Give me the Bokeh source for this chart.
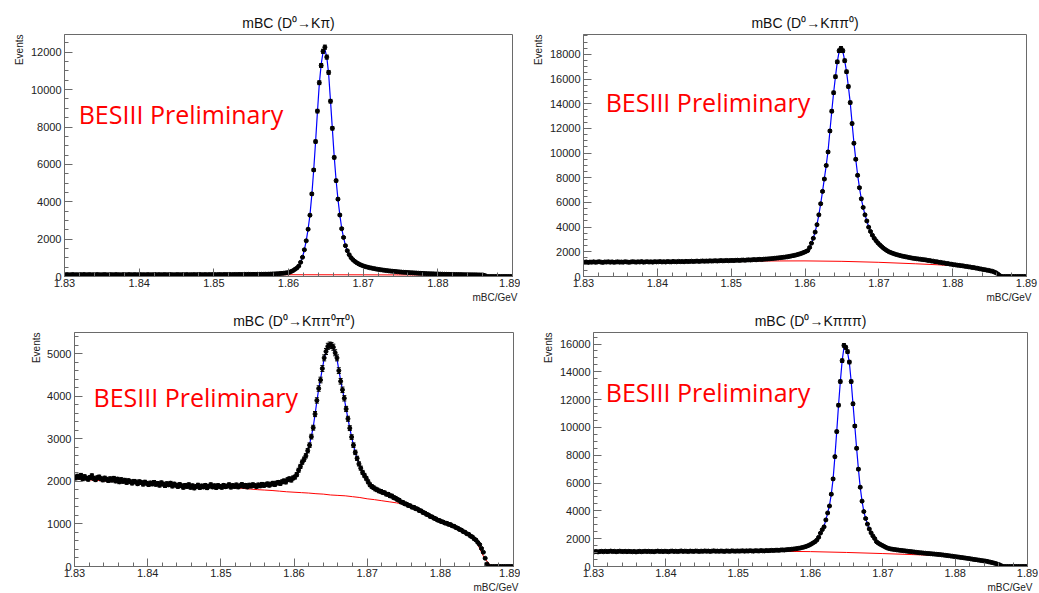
import numpy as np
from bokeh.plotting import figure
from bokeh.models import Range1d, FixedTicker, NumeralTickFormatter, Label, Title, ColumnDataSource
from bokeh.layouts import column, row
from bokeh.embed import file_html
from bokeh.resources import INLINE

# ---------------- data ----------------
BIN_LO = 1.83
BIN_W = 0.00025
FIT_FIRST_BIN = 118

titles = ["mBC (D\u2070\u2192K\u03c0)", "mBC (D\u2070\u2192K\u03c0\u03c0\u2070)",
          "mBC (D\u2070\u2192K\u03c0\u03c0\u2070\u03c0\u2070)", "mBC (D\u2070\u2192K\u03c0\u03c0\u03c0)"]
x_tick_values = [1.83, 1.84, 1.85, 1.86, 1.87, 1.88, 1.89]
x_label = "mBC/GeV"
y_label = "Events"
watermark = "BESIII Preliminary"

kpi_counts = [
    95,102,88,97,105,93,99,90,101,96,108,92,98,103,89,100,94,106,97,91,
    99,104,95,88,101,97,93,107,100,96,90,103,98,94,105,99,92,101,97,95,
    102,96,100,91,104,98,95,99,107,93,101,97,94,103,99,96,105,100,92,98,
    104,99,95,101,97,106,93,100,98,103,96,101,108,97,99,104,95,102,100,106,
    101,98,105,103,99,107,102,104,110,100,106,108,103,111,107,109,114,110,116,113,
    112,115,110,118,114,120,117,123,121,127,130,134,138,145,152,160,168,178,
    192,207,228,272,318,388,455,
    560,760,1030,1430,1910,2530,3280,4420,5700,7220,8850,10370,11290,12050,12270,
    11740,10920,9380,7930,6370,5130,4140,3290,2560,2090,1650,1380,1170,
    1010,900,810,740,680,630,590,550,520,495,470,450,430,410,390,375,360,345,330,318,
    305,295,285,275,265,255,245,235,
    228,222,215,208,202,196,190,184,178,173,168,163,158,153,149,145,141,137,133,130,
    127,124,121,118,116,113,111,109,107,105,103,101,99,97,96,94,92,91,90,88,86,84,80,70,40,
    0,0,0,0,0,0,0,0,0,0,0,0,0,0]
kpi_fit = [190,205,230,270,320,385,460,570,760,1030,
           1420,1920,2540,3300,4380,5700,7200,8800,10300,11350,
           12000,12150,11750,10850,9400,7900,6400,5150,4130,3300,
           2580,2080,1670,1380,1170,1010,900,810,740,680,
           630,590,550,520,495,470,450,430]
kpi_bkg_x = [1.83, 1.86, 1.87, 1.88, 1.885, 1.886, 1.8865, 1.89]
kpi_bkg = [95, 95, 90, 80, 70, 45, 0, 0]

kpipi0_counts = [
    1150,1180,1140,1170,1160,1190,1150,1175,1200,1165,1145,1180,1170,1195,1160,1185,1150,1170,1190,1165,
    1175,1160,1195,1180,1150,1170,1200,1185,1165,1190,1175,1210,1160,1185,1200,1175,1190,1165,1205,1185,
    1190,1210,1180,1200,1175,1215,1195,1185,1220,1200,1190,1225,1205,1215,1195,1230,1210,1220,1240,1215,
    1230,1250,1225,1240,1260,1235,1255,1245,1270,1250,1265,1280,1255,1275,1290,1270,1285,1300,1280,1295,
    1300,1290,1310,1320,1300,1325,1335,1315,1340,1350,1335,1360,1370,1355,1380,1390,1375,1400,1410,1420,
    1430,1445,1460,1475,1490,1510,1525,1545,1560,1580,1600,1630,1660,1690,1720,1760,1800,1850,1900,1960,
    2030,2100,2350,2700,3100,
    3600,4200,5000,5900,6900,7900,9000,10100,11800,13400,14900,16200,17400,18300,18500,
    18300,17500,16600,15400,14100,12400,10800,9500,8200,7200,6300,5600,5000,4500,4000,
    3650,3350,3100,2900,2720,2570,2430,2300,2190,2090,2000,1940,1880,1830,1780,1740,
    1700,1660,1630,1600,1570,1540,1510,1480,1460,1440,1420,1400,1380,
    1360,1345,1305,1295,1255,1245,1205,1195,1155,1145,1105,1095,1055,1045,1005,995,955,945,915,905,
    875,865,830,815,785,770,735,720,685,665,625,605,570,550,515,495,455,425,365,300,200,80,
    0,0,0,0,0,0,0,0,0,0,0,0,0,0]
kpipi0_fit = [1900,1960,2030,2110,2340,2700,3120,3620,4220,5000,
              5900,6900,7950,9000,10200,11800,13400,14900,16200,17400,
              18250,18450,18250,17500,16600,15400,14100,12450,10850,9500,
              8250,7200,6300,5600,5000,4500,4020,3650,3350,3100,
              2900,2720,2570,2430,2300,2190,2090,2000]
kpipi0_bkg_x = [1.83, 1.84, 1.85, 1.855, 1.86, 1.865, 1.87, 1.875, 1.878, 1.88,
                1.882, 1.884, 1.885, 1.886, 1.8865, 1.89]
kpipi0_bkg = [1150, 1180, 1230, 1260, 1265, 1230, 1150, 1030, 950, 880,
              770, 565, 455, 180, 0, 0]

kpipi0pi0_counts = [
    2080,2120,2095,2140,2060,2110,2075,2050,2090,2130,2070,2040,2085,2100,2060,2035,2075,2050,2020,2060,
    2030,2070,2010,2050,1990,2040,2000,2025,1975,2015,1990,1960,2000,1985,1945,1990,1970,1935,1980,1955,
    1925,1960,1940,1975,1930,1950,1910,1965,1935,1900,1945,1920,1955,1890,1935,1910,1880,1925,1895,1860,
    1905,1880,1920,1860,1895,1845,1880,1910,1855,1890,1870,1905,1850,1885,1920,1870,1895,1855,1900,1880,
    1860,1905,1875,1890,1920,1865,1900,1880,1915,1870,1895,1925,1885,1905,1870,1910,1890,1920,1900,1880,
    1915,1895,1930,1905,1920,1940,1910,1935,1955,1925,1960,1975,1950,1990,2010,1985,2040,2060,2030,2080,
    2100,2160,
    2260,2350,2450,2520,2600,2720,2850,3050,3260,3580,3900,4180,4380,4650,4900,5050,5170,5200,5190,5150,
    5020,4900,4600,4350,4150,3950,3700,3470,3250,3040,2850,2680,2540,2410,2310,2210,2140,2070,1990,1920,
    1880,1850,1820,1800,
    1775,1765,1740,1730,1700,1695,1660,1655,1620,1605,1575,1555,1515,1505,1475,1465,1435,1425,1395,1390,
    1360,1350,1315,1305,1270,1255,1225,1210,1175,1165,1135,1120,1090,1080,1055,1045,1020,1015,990,985,
    955,945,915,900,870,855,820,805,770,755,715,695,650,620,565,515,425,335,195,60,
    0,0,0,0,0,0,0,0,0,0,0,0,0,0]
kpipi0pi0_fit = [2030,2060,2100,2160,
                 2250,2340,2440,2520,2610,2730,2870,3060,3270,3570,
                 3880,4170,4400,4650,4880,5040,5150,5180,5170,5120,
                 5010,4870,4620,4370,4150,3940,3700,3470,3250,3040,
                 2850,2680,2540,2410,2310,2220,2140,2070,2000,1940,
                 1890,1850,1820,1800]
kpipi0pi0_bkg = [2060,2050,2035,2025,2010,2000,1990,1985,1975,1965,
                 1960,1950,1945,1935,1925,1920,1910,1905,1895,1890,
                 1880,1865,1850,1835,1820,1805,1795,1785,1770,1755,
                 1745,1735,1725,1710,1700,1680,1670,1660,1640,1620,
                 1590,1570,1545,1520,1495,1465,1400,1320,1230,1140,
                 1060,990,915,820,715,560,200,0,0,0,0]
kpipi0pi0_bkg_x = np.round(1.83 + 0.001 * np.arange(len(kpipi0pi0_bkg)), 3).tolist()

kpipipi_counts = [
    1060,1080,1050,1075,1090,1065,1100,1070,1085,1110,1075,1095,1060,1085,1105,1080,1070,1095,1065,1090,
    1075,1060,1085,1050,1070,1090,1065,1080,1100,1075,1095,1070,1085,1060,1090,1110,1080,1095,1070,1100,
    1085,1065,1095,1110,1080,1100,1075,1090,1120,1085,1105,1090,1075,1110,1095,1085,1115,1100,1080,1105,
    1090,1120,1095,1110,1085,1105,1125,1095,1110,1090,1115,1100,1085,1120,1105,1095,1125,1110,1100,1120,
    1105,1115,1130,1100,1125,1110,1135,1120,1105,1140,1125,1115,1145,1130,1120,1150,1135,1145,1160,1150,
    1165,1175,1160,1185,1195,1180,1205,1215,1225,1240,1255,1270,1290,1310,1335,1365,1400,1440,1490,1550,1620,
    1700,1780,1900,2100,2400,2650,2850,3350,3850,4350,
    5200,6300,7900,9700,11600,13300,14800,15900,15750,15450,
    14700,13300,11700,10100,8500,7000,5700,4700,3950,3450,
    3050,2700,2420,2200,2010,1780,1680,1600,1530,1460,
    1390,1330,1290,1260,1240,
    1220,1200,1185,1165,1150,1135,1120,1100,1085,1070,1055,1040,1020,1005,990,980,965,955,940,930,
    920,905,895,880,870,855,840,825,805,790,775,755,740,720,700,685,665,645,630,610,
    590,570,550,530,510,490,470,450,430,410,395,370,340,310,280,245,210,165,120,60,
    0,0,0,0,0,0,0,0,0,0,0,0,0,0]
kpipipi_fit = [1480,1550,1620,1700,1790,1920,2110,2380,2660,2900,
               3350,3850,4400,5200,6300,7900,9700,11600,13300,14800,
               15750,15700,15400,14650,13300,11700,10100,8500,7000,5700,
               4700,3950,3450,3050,2700,2420,2200,2010,1800,1690,
               1600,1530,1460,1390,1330,1290,1260,1240]
kpipipi_bkg_x = [1.83, 1.84, 1.85, 1.855, 1.86, 1.865, 1.87, 1.875, 1.878, 1.88,
                 1.882, 1.884, 1.885, 1.886, 1.8865, 1.89]
kpipipi_bkg = [1070, 1080, 1090, 1095, 1070, 1010, 930, 840, 800, 690,
               530, 395, 280, 140, 0, 0]

# ---------------- styling / layout ----------------
AX_FONT = "Liberation Sans"
FRAME_COL = "#6a6a6a"


def make_panel(title, counts, fit, bkg_x, bkg, ymax, ymajor, yminor_step,
               width, height, borders, wm_xy):
    counts = np.asarray(counts, dtype=float)
    xs = BIN_LO + BIN_W * (np.arange(len(counts)) + 0.5)
    err = np.sqrt(counts)
    src = ColumnDataSource(dict(x=xs, y=counts, lo=counts - err, hi=counts + err))
    fit = np.asarray(fit, dtype=float)
    fx = BIN_LO + BIN_W * (np.arange(len(fit)) + FIT_FIRST_BIN + 0.5)

    p = figure(width=width, height=height, x_range=Range1d(1.83, 1.89),
               y_range=Range1d(0, ymax), output_backend="svg",
               toolbar_location=None, tools="")
    left, right, top, bottom = borders
    p.min_border_left = left
    p.min_border_right = right
    p.min_border_top = top
    p.min_border_bottom = bottom
    p.background_fill_color = "white"
    p.border_fill_color = "white"
    p.outline_line_color = FRAME_COL
    p.outline_line_width = 1
    p.xgrid.visible = False
    p.ygrid.visible = False

    p.title.text = title
    p.title.align = "center"
    p.title.text_font = AX_FONT
    p.title.text_font_size = "14px"
    p.title.text_font_style = "normal"
    p.title.text_color = "#111111"
    p.title.standoff = 7

    xminor = np.round(np.arange(1.83, 1.8901, 0.002), 3).tolist()
    p.xaxis.ticker = FixedTicker(ticks=x_tick_values, minor_ticks=xminor)
    p.xaxis.formatter = NumeralTickFormatter(format="0.00")
    yt = list(range(0, int(ymax) + 1, ymajor))
    ym = list(range(0, int(ymax) + 1, yminor_step))
    p.yaxis.ticker = FixedTicker(ticks=yt, minor_ticks=ym)
    p.yaxis.formatter = NumeralTickFormatter(format="0")
    for ax in (p.xaxis, p.yaxis):
        ax.axis_line_color = FRAME_COL
        ax.major_tick_line_color = FRAME_COL
        ax.minor_tick_line_color = FRAME_COL
        ax.major_tick_in = 8
        ax.major_tick_out = 0
        ax.minor_tick_in = 4
        ax.minor_tick_out = 0
        ax.major_label_text_font = AX_FONT
        ax.major_label_text_font_size = "11px"
        ax.major_label_text_color = "#222222"
    p.xaxis.major_label_standoff = 2
    p.yaxis.major_label_standoff = 3

    p.add_layout(Title(text=y_label, align="right", text_font=AX_FONT,
                       text_font_size="10px", text_font_style="normal",
                       text_color="#222222", standoff=5), "left")
    p.add_layout(Title(text=x_label, align="right", offset=-5, text_font=AX_FONT,
                       text_font_size="10px", text_font_style="normal",
                       text_color="#222222", standoff=0), "below")

    # background (red) and total fit (blue)
    p.line(bkg_x, bkg, line_color="#ff0000", line_width=1)
    p.line(fx, fit, line_color="#0000ff", line_width=1.2)

    # data with error bars
    p.segment(x0="x", y0="lo", x1="x", y1="hi", source=src, line_color="black", line_width=1)
    p.scatter(x="x", y="hi", source=src, marker="dash", size=4, line_color="black", line_width=1)
    p.scatter(x="x", y="lo", source=src, marker="dash", size=4, line_color="black", line_width=1)
    p.scatter(x="x", y="y", source=src, marker="circle", size=4,
              fill_color="black", line_color="black")

    p.add_layout(Label(x=wm_xy[0], y=wm_xy[1], text=watermark, text_color="#ff0000",
                       text_font="Open Sans", text_font_size="25px",
                       text_baseline="alphabetic"))
    return p


p1 = make_panel(titles[0], kpi_counts, kpi_fit, kpi_bkg_x, kpi_bkg,
                12950, 2000, 500, 520, 303, (64, 8, 32, 27), (1.8319, 8700))
p2 = make_panel(titles[1], kpipi0_counts, kpipi0_fit, kpipi0_bkg_x, kpipi0_bkg,
                19620, 2000, 500, 518, 303, (63, 12, 34, 26), (1.833, 14170))
p3 = make_panel(titles[2], kpipi0pi0_counts, kpipi0pi0_fit, kpipi0pi0_bkg_x, kpipi0pi0_bkg,
                5496, 1000, 200, 520, 289, (74, 7, 29, 20), (1.8326, 3970))
p4 = make_panel(titles[3], kpipipi_counts, kpipipi_fit, kpipipi_bkg_x, kpipipi_bkg,
                16827, 2000, 500, 518, 289, (73, 11, 26, 25), (1.8317, 12530))

layout = column(row(p1, p2), row(p3, p4))
open("out.html", "w").write(file_html(layout, INLINE))
